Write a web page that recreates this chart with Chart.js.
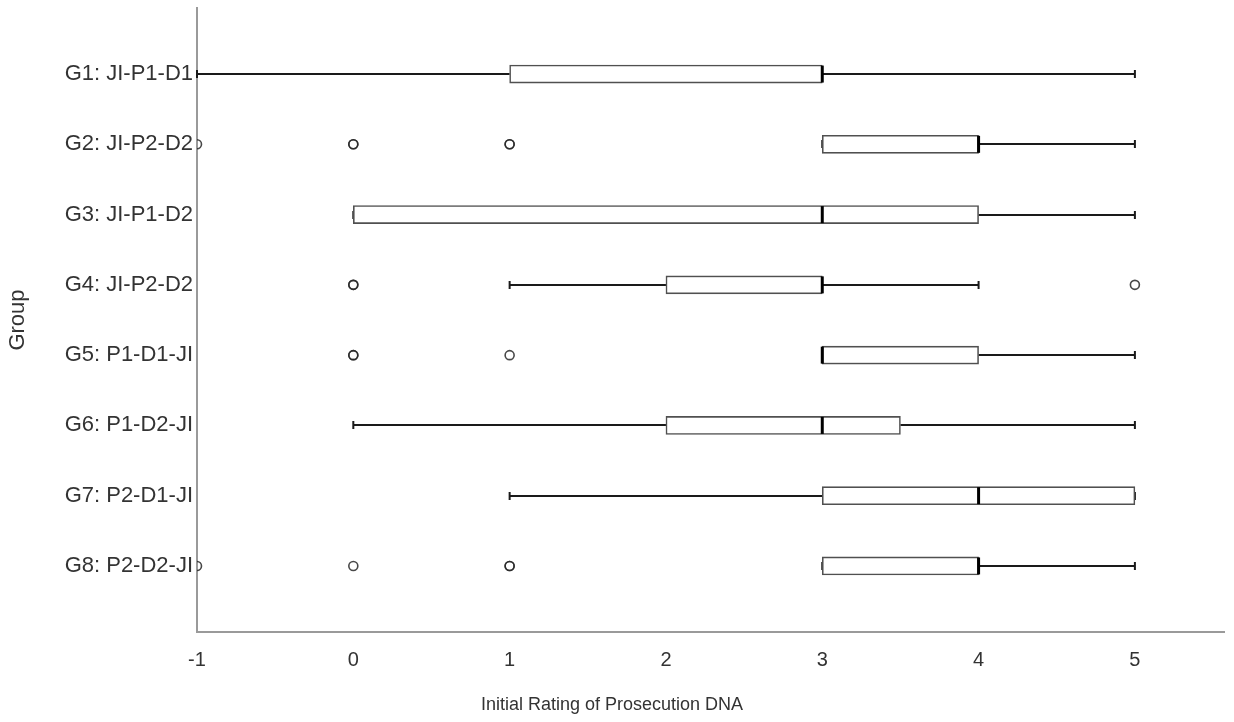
<!DOCTYPE html>
<html>
<head>
<meta charset="utf-8">
<script src="https://cdn.jsdelivr.net/npm/chart.js@4/dist/chart.umd.min.js"></script>
<style>
  html, body { margin: 0; padding: 0; background: #fff; }
  #wrap { width: 1234px; height: 722px; }
</style>
</head>
<body>
<div id="wrap"><canvas id="c" width="1234" height="722"></canvas></div>
<script>
// ---- data ----
const categories = ['G1: JI-P1-D1', 'G2: JI-P2-D2', 'G3: JI-P1-D2', 'G4: JI-P2-D2',
                    'G5: P1-D1-JI', 'G6: P1-D2-JI', 'G7: P2-D1-JI', 'G8: P2-D2-JI'];
const whiskerLow  = [-1, 3, 0, 1, 3, 0, 1, 3];
const q1          = [ 1, 3, 0, 2, 3, 2, 3, 3];
const median      = [ 3, 4, 3, 3, 3, 3, 4, 4];
const q3          = [ 3, 4, 4, 3, 4, 3.5, 5, 4];
const whiskerHigh = [ 5, 5, 5, 4, 5, 5, 5, 5];
const outliers    = [[], [-1, 0, 0, 1, 1], [], [0, 0, 5], [0, 0, 1], [], [], [-1, 0, 1, 1]];
const xTicks = [-1, 0, 1, 2, 3, 4, 5];
const xTitle = 'Initial Rating of Prosecution DNA';
const yTitle = 'Group';

// ---- build datasets ----
const boxData = categories.map((c, i) => ({ y: i + 1, x: [q1[i], q3[i]] }));
const outlierData = [];
outliers.forEach((arr, i) => arr.forEach(v => outlierData.push({ x: v, y: i + 1 })));

const FONT = '"Liberation Sans", Arial, sans-serif';
const TEXT = '#333333';

const boxPlugin = {
  id: 'boxParts',
  beforeDatasetsDraw(chart) {
    const { ctx, chartArea, scales: { x, y } } = chart;
    ctx.save();
    ctx.beginPath();
    ctx.rect(chartArea.left - 2, chartArea.top, chartArea.right - chartArea.left + 2, chartArea.bottom - chartArea.top);
    ctx.clip();
    ctx.strokeStyle = '#1a1a1a';
    ctx.lineWidth = 2;
    categories.forEach((c, i) => {
      const py = Math.round(y.getPixelForValue(i + 1));
      const xl = x.getPixelForValue(whiskerLow[i]);
      const xq1 = x.getPixelForValue(q1[i]);
      const xq3 = x.getPixelForValue(q3[i]);
      const xh = x.getPixelForValue(whiskerHigh[i]);
      ctx.beginPath();
      if (whiskerLow[i] < q1[i]) { ctx.moveTo(xl, py); ctx.lineTo(xq1, py); }
      if (whiskerHigh[i] > q3[i]) { ctx.moveTo(xq3, py); ctx.lineTo(xh, py); }
      ctx.stroke();
      // caps
      ctx.beginPath();
      ctx.moveTo(xl, py - 4); ctx.lineTo(xl, py + 4);
      ctx.moveTo(xh, py - 4); ctx.lineTo(xh, py + 4);
      ctx.stroke();
    });
    ctx.restore();
  },
  afterDatasetDraw(chart, args) {
    if (args.index !== 0) return;
    const { ctx, scales: { x, y } } = chart;
    ctx.save();
    ctx.strokeStyle = '#000';
    ctx.lineWidth = 3;
    categories.forEach((c, i) => {
      const py = y.getPixelForValue(i + 1);
      const xm = x.getPixelForValue(median[i]);
      ctx.beginPath();
      ctx.moveTo(xm, py - 8.5); ctx.lineTo(xm, py + 8.5);
      ctx.stroke();
    });
    ctx.restore();
  }
};

new Chart(document.getElementById('c'), {
  type: 'bar',
  data: {
    datasets: [
      {
        type: 'bar',
        indexAxis: 'y',
        data: boxData,
        backgroundColor: '#ffffff',
        borderColor: '#505050',
        borderWidth: 1.6,
        borderSkipped: false,
        barThickness: 18
      },
      {
        type: 'scatter',
        data: outlierData,
        pointRadius: 4.5,
        pointBorderWidth: 1.6,
        pointBorderColor: 'rgba(40,40,40,0.85)',
        pointBackgroundColor: 'rgba(255,255,255,0)',
        showLine: false
      }
    ]
  },
  options: {
    responsive: false,
    animation: false,
    layout: { padding: { top: 8, right: 10, left: 0, bottom: 0 } },
    plugins: {
      legend: { display: false },
      tooltip: { enabled: false },
      title: {
        display: true,
        position: 'bottom',
        text: xTitle,
        color: TEXT,
        font: { family: FONT, size: 18, weight: 'normal' },
        padding: { top: 23.6, bottom: 6.2 }
      }
    },
    scales: {
      x: {
        type: 'linear',
        position: 'bottom',
        offset: false,
        min: -1,
        max: 5.57,
        grid: { display: false, drawTicks: false, offset: false },
        border: { display: true, color: '#9a9a9a', width: 2 },
        afterBuildTicks: (scale) => { scale.ticks = xTicks.map(v => ({ value: v })); },
        afterFit: (scale) => { scale.height = 38.6; scale.paddingLeft = 0; scale.paddingRight = 0; },
        ticks: { color: TEXT, font: { family: FONT, size: 20 }, padding: 16, maxRotation: 0 }
      },
      y: {
        type: 'linear',
        position: 'left',
        offset: false,
        reverse: true,
        min: 0.06,
        max: 8.94,
        grid: { display: false, drawTicks: false, offset: false },
        border: { display: true, color: '#9a9a9a', width: 2 },
        afterBuildTicks: (scale) => { scale.ticks = categories.map((c, i) => ({ value: i + 1 })); },
        afterFit: (scale) => { scale.width = 197; scale.paddingTop = 0; scale.paddingBottom = 0; },
        ticks: {
          color: TEXT,
          font: { family: FONT, size: 22 },
          padding: 4,
          autoSkip: false,
          callback: (v) => categories[v - 1]
        },
        title: {
          display: true,
          text: yTitle,
          color: TEXT,
          font: { family: FONT, size: 22 },
          padding: { top: 5, bottom: 0 }
        }
      }
    }
  },
  plugins: [boxPlugin]
});
</script>
</body>
</html>
